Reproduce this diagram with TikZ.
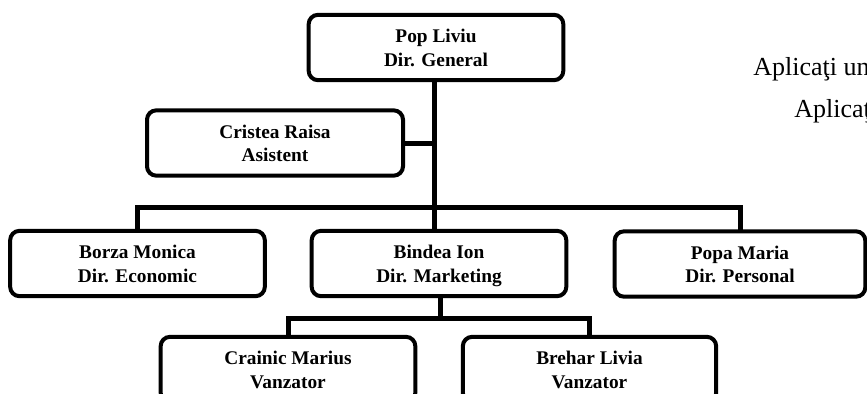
\documentclass[tikz,border=0pt]{standalone}
\usepackage{fontspec}
\setmainfont{Liberation Serif}
\newcommand{\twolines}[2]{\rule{0pt}{14pt}#1\\\rule[-3.3pt]{0pt}{10pt}#2}
\begin{document}
\begin{tikzpicture}[x=0.75pt,y=-0.75pt,
  person/.style={draw=black, line width=3pt, rounded corners=7pt, align=center,
    minimum height=49pt, inner sep=0pt,
    font=\bfseries\fontsize{14.5pt}{17.5pt}\selectfont},
  conn/.style={draw=black, line width=3.75pt, line join=miter, line cap=rect},
  side/.style={anchor=base west, inner sep=0pt, font=\fontsize{19.5pt}{23pt}\selectfont}]
\useasboundingbox (0,0) rectangle (867,393);
\clip (0,0) rectangle (867,393);
% nodes
\node[person, minimum width=191pt] (gen) at (436,47.5) {\twolines{Pop Liviu}{Dir. General}};
\node[person, minimum width=192pt] (cri) at (275,143) {\twolines{Cristea Raisa}{Asistent}};
\node[person, minimum width=191pt] (bor) at (137.5,263.5) {\twolines{Borza Monica}{Dir. Economic}};
\node[person, minimum width=191pt] (bin) at (439,263.5) {\twolines{Bindea Ion}{Dir. Marketing}};
\node[person, minimum width=188pt] (pop) at (740,264) {\twolines{Popa Maria}{Dir. Personal}};
\node[person, minimum width=191pt] (cra) at (288,369.5) {\twolines{Crainic Marius}{Vanzator}};
\node[person, minimum width=190pt] (bre) at (589.5,369.5) {\twolines{Brehar Livia}{Vanzator}};
\coordinate (bus) at (434,207);
\coordinate (sub) at (440,318);
% connectors
\draw[conn] (gen.south -| bus) -- (bin.north -| bus);
\draw[conn] (cri.east) -- (cri.east -| bus);
\draw[conn] (bor.north) -- (bor.north |- bus) -- (pop.north |- bus) -- (pop.north);
\draw[conn] (bin.south -| sub) -- (sub);
\draw[conn] (cra.north) -- (cra.north |- sub) -- (bre.north |- sub) -- (bre.north);
% side text
\node[side] (t1) at (753,75) {Aplicaţi un};
\node[side] (t2) at (794,117) {Aplicaţi};
\end{tikzpicture}
\end{document}
